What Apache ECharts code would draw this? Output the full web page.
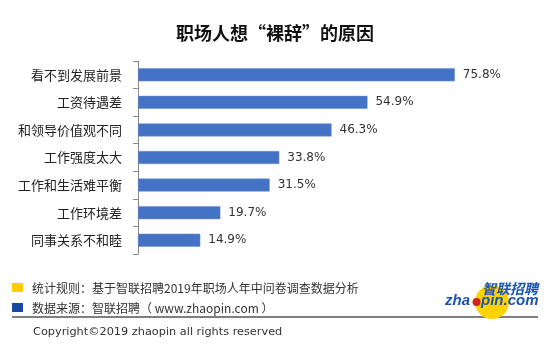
<!DOCTYPE html>
<html>
<head>
<meta charset="utf-8">
<script src="https://cdn.jsdelivr.net/npm/echarts@6/dist/echarts.min.js"></script>
<style>
html,body{margin:0;padding:0;background:#fff;}
#c{width:550px;height:344px;}
</style>
</head>
<body>
<div id="c"></div>
<script>
var titleText = '职场人想“裸辞”的原因';
var categories = ['看不到发展前景', '工资待遇差', '和领导价值观不同', '工作强度太大', '工作和生活难平衡', '工作环境差', '同事关系不和睦'];
var values = [75.8, 54.9, 46.3, 33.8, 31.5, 19.7, 14.9];
var note1 = '统计规则：基于智联招聘2019年职场人年中问卷调查数据分析';
var note2 = '数据来源：智联招聘（ www.zhaopin.com ）';
var copyright = 'Copyright©2019 zhaopin all rights reserved';

var chart = echarts.init(document.getElementById('c'), null, {renderer: 'canvas'});
var cjk = '"Noto Sans CJK SC", sans-serif';
chart.setOption({
  backgroundColor: '#fff',
  animation: false,
  title: {
    text: titleText,
    left: 'center',
    top: 19,
    textStyle: {fontFamily: cjk, fontSize: 18, fontWeight: 'bold', color: '#111'}
  },
  grid: {left: 138, top: 61, height: 193, width: 334.4},
  xAxis: {type: 'value', min: 0, max: 80, show: false},
  yAxis: {
    type: 'category',
    data: categories,
    inverse: true,
    axisLine: {show: true, lineStyle: {color: '#888', width: 1}},
    axisTick: {show: true, length: 5, lineStyle: {color: '#888'}},
    axisLabel: {margin: 16, fontFamily: cjk, fontSize: 13, color: '#222'}
  },
  series: [{
    type: 'bar',
    data: values,
    barWidth: 13,
    itemStyle: {color: '#4472C4', borderColor: '#6d8fd2', borderWidth: 0.5},
    label: {
      show: true, position: 'right', distance: 8,
      formatter: function (p) { return p.value.toFixed(1) + '%'; },
      fontFamily: '"DejaVu Sans", sans-serif', fontSize: 12, color: '#333'
    }
  }],
  graphic: [
    {type: 'rect', shape: {x: 12, y: 283, width: 11, height: 9}, style: {fill: '#FFCC00'}},
    {type: 'rect', shape: {x: 12, y: 303, width: 11, height: 9}, style: {fill: '#1A48A0'}},
    {type: 'text', x: 32, y: 288, style: {text: note1, fontFamily: cjk, fontSize: 12, fill: '#333', textVerticalAlign: 'middle'}},
    {type: 'text', x: 32, y: 308, style: {text: note2, fontFamily: cjk, fontSize: 12, fill: '#333', textVerticalAlign: 'middle'}},
    {type: 'line', shape: {x1: 12, y1: 317, x2: 538, y2: 317}, style: {stroke: '#555', lineWidth: 1.5}},
    {type: 'text', x: 33, y: 332, style: {text: copyright, fontFamily: '"DejaVu Sans", sans-serif', fontSize: 11.3, fill: '#333', textVerticalAlign: 'middle'}},
    {type: 'circle', shape: {cx: 492, cy: 302, r: 17}, style: {fill: '#FFD200'}},
    {type: 'text', x: 482, y: 289, style: {text: '智联招聘', fontFamily: cjk, fontSize: 14, fontWeight: 'bold', fontStyle: 'italic', fill: '#1A55B0', textVerticalAlign: 'middle'}},
    {type: 'text', x: 445, y: 301, style: {text: 'zha', fontFamily: '"Liberation Sans", sans-serif', fontSize: 15, fontWeight: 'bold', fontStyle: 'italic', fill: '#1A55B0', textVerticalAlign: 'middle'}},
    {type: 'circle', shape: {cx: 476.5, cy: 302, r: 4}, style: {fill: '#D0231E'}},
    {type: 'text', x: 481, y: 301, style: {text: 'pin.com', fontFamily: '"Liberation Sans", sans-serif', fontSize: 15, fontWeight: 'bold', fontStyle: 'italic', fill: '#1A55B0', textVerticalAlign: 'middle'}}
  ]
});
</script>
</body>
</html>
